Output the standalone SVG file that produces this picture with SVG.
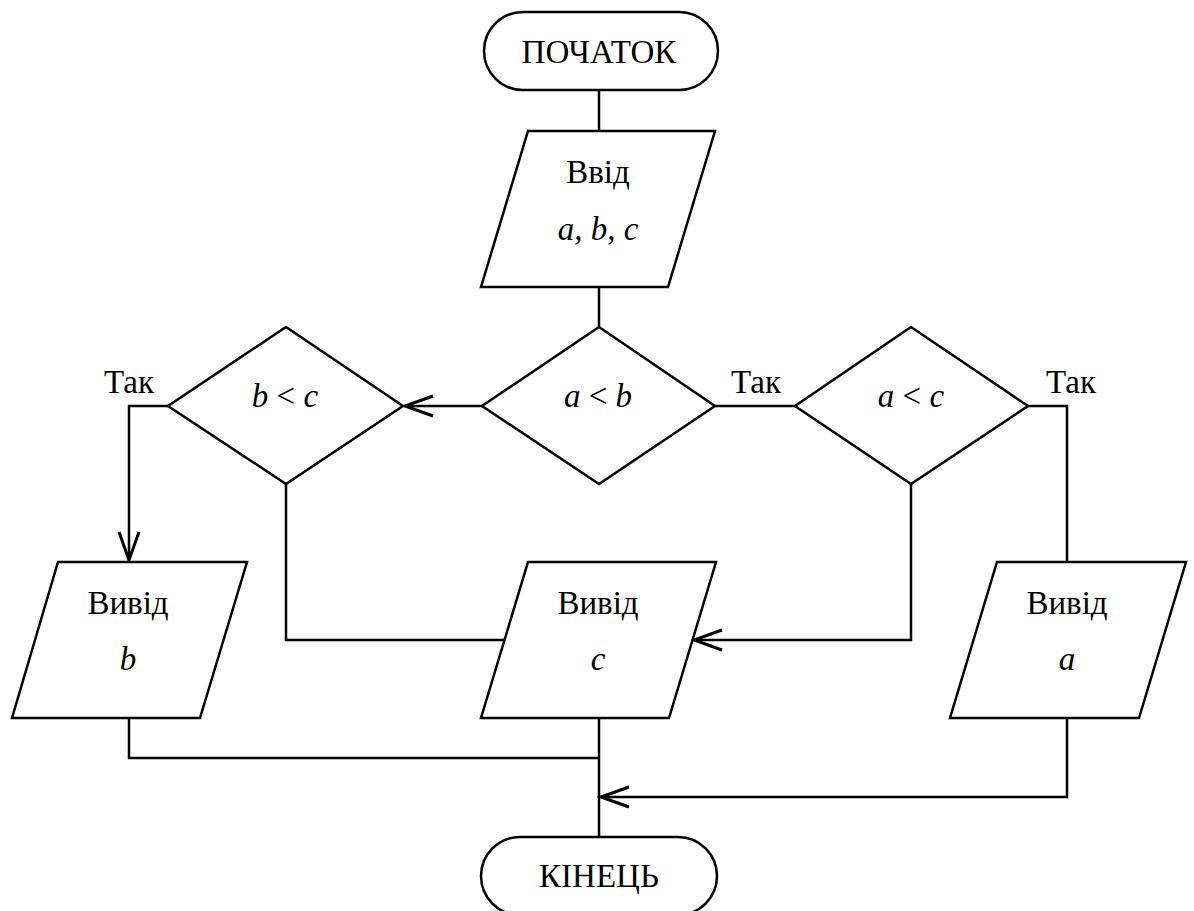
<svg xmlns="http://www.w3.org/2000/svg" width="1194" height="911" viewBox="0 0 1194 911">
<style>
.shape{fill:#fff;stroke:#000;stroke-width:2.5}
.conn{fill:none;stroke:#000;stroke-width:2.5}
text{font-family:"Liberation Serif","Times New Roman",serif;font-size:33px;fill:#000;text-anchor:middle}
.it{font-style:italic}
.lbl{text-anchor:start}
</style>
<defs>
<marker id="arr" markerUnits="userSpaceOnUse" markerWidth="40" markerHeight="30" viewBox="-30 -15 40 30" refX="0" refY="0" orient="auto">
<path d="M-28,-10 L0,0 L-28,10" fill="none" stroke="#000" stroke-width="3"/>
</marker>
</defs>
<rect width="1194" height="911" fill="#fff"/>
<g id="connectors">
<path class="conn" d="M599,90 V131"/>
<path class="conn" d="M599,287 V327"/>
<path class="conn" d="M482,406 H405" marker-end="url(#arr)"/>
<path class="conn" d="M715,406 H795"/>
<path class="conn" d="M168,406 H129 V560" marker-end="url(#arr)"/>
<path class="conn" d="M286,484 V640 H504"/>
<path class="conn" d="M911,484 V640 H694" marker-end="url(#arr)"/>
<path class="conn" d="M1028,406 H1067 V562"/>
<path class="conn" d="M129,718 V758 H599"/>
<path class="conn" d="M599,718 V837"/>
<path class="conn" d="M1067,718 V797 H601" marker-end="url(#arr)"/>
<text class="lbl" x="104" y="393">Так</text>
<text class="lbl" x="731" y="393">Так</text>
<text class="lbl" x="1046" y="393">Так</text>
</g>
<g id="start">
<rect class="shape" x="484" y="12" width="234" height="78" rx="39" ry="39"/>
<text x="599" y="63">ПОЧАТОК</text>
</g>
<g id="input">
<polygon class="shape" points="528,131 715,131 668,287 481,287"/>
<text x="598" y="183">Ввід</text>
<text x="598" y="240" class="it">a, b, c</text>
</g>
<g id="cond_ab">
<polygon class="shape" points="599,327 715,406 599,484 482,406"/>
<text x="598" y="407"><tspan class="it">a</tspan> &lt; <tspan class="it">b</tspan></text>
</g>
<g id="cond_bc">
<polygon class="shape" points="286,327 403,406 286,484 168,406"/>
<text x="285" y="407"><tspan class="it">b</tspan> &lt; <tspan class="it">c</tspan></text>
</g>
<g id="cond_ac">
<polygon class="shape" points="911,327 1028,406 911,484 795,406"/>
<text x="911" y="407"><tspan class="it">a</tspan> &lt; <tspan class="it">c</tspan></text>
</g>
<g id="out_b">
<polygon class="shape" points="58,562 247,562 200,718 12,718"/>
<text x="128" y="614">Вивід</text>
<text x="128" y="670" class="it">b</text>
</g>
<g id="out_c">
<polygon class="shape" points="528,562 716,562 669,718 481,718"/>
<text x="598" y="614">Вивід</text>
<text x="598" y="670" class="it">c</text>
</g>
<g id="out_a">
<polygon class="shape" points="997,562 1186,562 1139,718 950,718"/>
<text x="1067" y="614">Вивід</text>
<text x="1067" y="670" class="it">a</text>
</g>
<g id="end">
<rect class="shape" x="481" y="837" width="236" height="78" rx="39" ry="39"/>
<text x="599" y="887">КІНЕЦЬ</text>
</g>
</svg>
